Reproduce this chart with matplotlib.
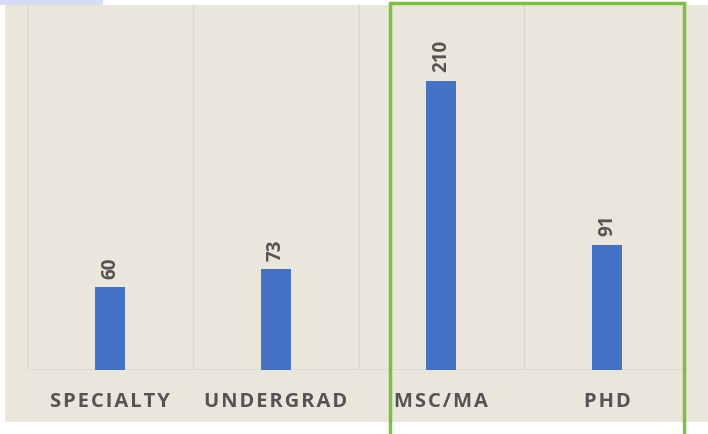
import matplotlib
matplotlib.use("Agg")
import matplotlib.pyplot as plt
from matplotlib.patches import Rectangle

# ── Data ──────────────────────────────────────────────────────────────────────
categories = ["SPECIALTY", "UNDERGRAD", "MSC/MA", "PHD"]
values     = [60, 73, 210, 91]

BAR_COLOR   = "#4472c4"
TEXT_COLOR  = "#545454"
BG_COLOR    = "#ebe6dc"
GRID_COLOR  = "#dcd8d0"
GREEN       = "#7cc142"

W, H = 708, 434
fig = plt.figure(figsize=(W / 100, H / 100), dpi=100)
fig.patch.set_facecolor("white")

# beige backdrop (flat stand-in for the linen texture)
fig.patches.append(Rectangle((5 / W, (H - 422) / H), (W - 5) / W, 417 / H,
                             transform=fig.transFigure, facecolor=BG_COLOR,
                             edgecolor="none", zorder=-2))
# small light-blue strip at the top left
fig.patches.append(Rectangle((0, (H - 5) / H), 103 / W, 5 / H,
                             transform=fig.transFigure, facecolor="#d3dcf2",
                             edgecolor="none", zorder=-2))

ax = fig.add_axes([27 / W, (H - 370) / H, (690 - 27) / W, (370 - 5) / H])
ax.set_facecolor("none")
ax.set_zorder(1)

x = range(len(categories))
ax.bar(x, values, width=0.18, color=BAR_COLOR, zorder=3)
ax.set_xlim(-0.5, len(categories) - 0.5)
ax.set_ylim(0, 265)

# category separators + baseline
for b in [-0.5, 0.5, 1.5, 2.5]:
    ax.axvline(b, color=GRID_COLOR, lw=1, zorder=1)
ax.axhline(0, color=GRID_COLOR, lw=1.2, zorder=2)

for s in ax.spines.values():
    s.set_visible(False)
ax.set_yticks([])
ax.set_xticks([])

# value labels, rotated
for xi, v in zip(x, values):
    ax.annotate(str(v), (xi, v), xytext=(0, 6), textcoords="offset points",
                rotation=90, ha="center", va="bottom", fontsize=13.5,
                fontweight="bold", color=TEXT_COLOR, family=["Open Sans", "DejaVu Sans"],
                clip_on=False)

# letter-spaced category labels
for xi, cat in zip(x, categories):
    spaced = "\u200a".join(cat)
    ax.text(xi, -32 / 1.376, spaced, ha="center", va="center", fontsize=14.5,
            fontweight="bold", color=TEXT_COLOR, family=["Open Sans", "DejaVu Sans"],
            clip_on=False)

# green highlight box around the graduate categories
fig.patches.append(Rectangle((390 / W, -0.02), (684 - 390) / W, (H - 3) / H + 0.02,
                             transform=fig.transFigure, facecolor="none",
                             edgecolor=GREEN, lw=2.5, zorder=5))

fig.savefig("out.png", dpi=100)
